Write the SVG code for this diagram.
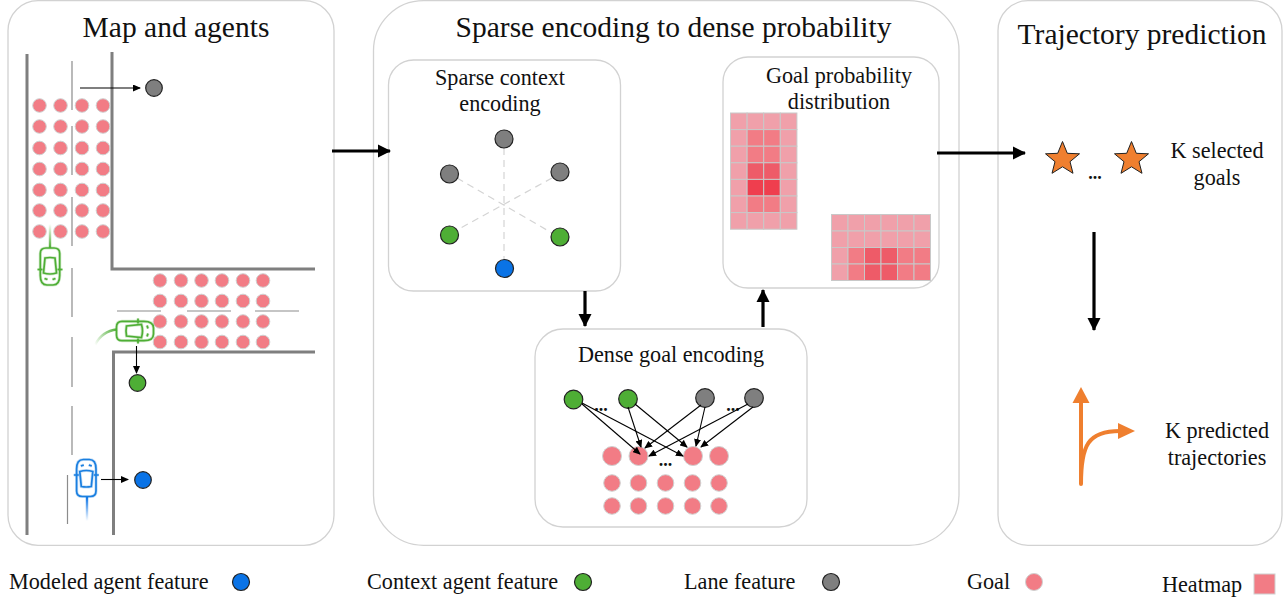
<svg xmlns="http://www.w3.org/2000/svg" width="1287" height="598" viewBox="0 0 1287 598">
<style>
text{font-family:"Liberation Serif","Times New Roman",serif;fill:#111}
.t{font-size:29.500px;text-anchor:middle}
.s{font-size:22.200px;text-anchor:middle}
.l{font-size:22.200px}
.d{font-size:18px;text-anchor:middle;font-weight:bold}
.panel{fill:#fff;stroke:#d2d2d2;stroke-width:1.3}
.road{fill:none;stroke:#7f7f7f;stroke-width:3}
.lane{fill:none;stroke:#8c8c8c;stroke-width:1.2}
.n{stroke:#222;stroke-width:1.2}
.gray{fill:#7f7f7f}.green{fill:#4eae35}.blue{fill:#0a73e6}
.goal{fill:#f27c85;stroke:#d0d0d0;stroke-width:1}
.thin{stroke:#000;stroke-width:1.1;fill:none;marker-end:url(#a1)}
.bold{stroke:#000;stroke-width:3.2;fill:none;marker-end:url(#a2)}
.dash{stroke:#d4d4d4;stroke-width:1.2;stroke-dasharray:7 5;fill:none}
.b{fill:#f0a0aa}.m{fill:#f27c85}.h{fill:#ee5b68}.x{fill:#ef3e4e}
.hm rect{stroke:#c8c8c8;stroke-width:1}
.star{fill:#ef7f2f;stroke:#222;stroke-width:1}
.car{fill:none;stroke:currentColor;stroke-width:1.7}
</style>
<defs>
<marker id="a1" markerWidth="9" markerHeight="7" refX="7" refY="3.5" orient="auto" markerUnits="userSpaceOnUse"><path d="M0 0L8 3.5L0 7Z" fill="#000"/></marker>
<marker id="a2" markerWidth="14" markerHeight="14" refX="12" refY="7" orient="auto" markerUnits="userSpaceOnUse"><path d="M0 0.5L13 7L0 13.5Z" fill="#000"/></marker>
<linearGradient id="tg" x1="0" y1="1" x2="0" y2="0"><stop offset="0" stop-color="#4eae35"/><stop offset="1" stop-color="#4eae35" stop-opacity="0"/></linearGradient>
<linearGradient id="tc" gradientUnits="userSpaceOnUse" x1="117" y1="329" x2="95" y2="345"><stop offset="0" stop-color="#4eae35"/><stop offset="1" stop-color="#4eae35" stop-opacity="0"/></linearGradient>
<linearGradient id="tb" x1="0" y1="0" x2="0" y2="1"><stop offset="0" stop-color="#0a73e6"/><stop offset="1" stop-color="#0a73e6" stop-opacity="0"/></linearGradient>
<g id="car-shape">
<path d="M-3-18.500H3Q9.700-18.500 9.700-9V13Q9.700 18.500 4 18.500H-4Q-9.700 18.500-9.700 13V-9Q-9.700-18.500-3-18.500Z"/>
<path d="M-6.500-6.500Q0-8.500 6.500-6.500L5 8.500Q0 9.500-5 8.500Z"/>
<path d="M-12.500-3H-7.500M7.500-3H12.500M-5.500-12L-2.500-13M5.500-12L2.500-13"/>
</g>
<g id="car" class="car">
<use href="#car-shape" stroke-width="3.200" stroke-opacity="0.250"/>
<use href="#car-shape"/>
</g>
</defs>

<g id="panel-map">
<rect class="panel" x="8" y="0.700" width="326" height="544.600" rx="30"/>
<text class="t" x="176" y="37">Map and agents</text>
<path class="road" d="M27 54V535M112 52V269H315M315 352H113.500V535"/>
<path class="lane" d="M72 61V110M72 126V175M72 197V246M72 268V317M72 337V387M72 406V455M67.500 475V524M117 311H161M187 311H231M255 311H299"/>
<g id="map-goals-a">
<circle class="goal" cx="39.500" cy="105.500" r="6.800"/><circle class="goal" cx="60.500" cy="105.500" r="6.800"/><circle class="goal" cx="82" cy="105.500" r="6.800"/><circle class="goal" cx="103" cy="105.500" r="6.800"/>
<circle class="goal" cx="39.500" cy="126.500" r="6.800"/><circle class="goal" cx="60.500" cy="126.500" r="6.800"/><circle class="goal" cx="82" cy="126.500" r="6.800"/><circle class="goal" cx="103" cy="126.500" r="6.800"/>
<circle class="goal" cx="39.500" cy="148" r="6.800"/><circle class="goal" cx="60.500" cy="148" r="6.800"/><circle class="goal" cx="82" cy="148" r="6.800"/><circle class="goal" cx="103" cy="148" r="6.800"/>
<circle class="goal" cx="39.500" cy="169" r="6.800"/><circle class="goal" cx="60.500" cy="169" r="6.800"/><circle class="goal" cx="82" cy="169" r="6.800"/><circle class="goal" cx="103" cy="169" r="6.800"/>
<circle class="goal" cx="39.500" cy="190" r="6.800"/><circle class="goal" cx="60.500" cy="190" r="6.800"/><circle class="goal" cx="82" cy="190" r="6.800"/><circle class="goal" cx="103" cy="190" r="6.800"/>
<circle class="goal" cx="39.500" cy="210.500" r="6.800"/><circle class="goal" cx="60.500" cy="210.500" r="6.800"/><circle class="goal" cx="82" cy="210.500" r="6.800"/><circle class="goal" cx="103" cy="210.500" r="6.800"/>
<circle class="goal" cx="39.500" cy="231.500" r="6.800"/><circle class="goal" cx="60.500" cy="231.500" r="6.800"/><circle class="goal" cx="82" cy="231.500" r="6.800"/><circle class="goal" cx="103" cy="231.500" r="6.800"/>
</g>
<g id="map-goals-b">
<circle class="goal" cx="160" cy="280.500" r="6.800"/><circle class="goal" cx="181" cy="280.500" r="6.800"/><circle class="goal" cx="201.500" cy="280.500" r="6.800"/><circle class="goal" cx="222" cy="280.500" r="6.800"/><circle class="goal" cx="243" cy="280.500" r="6.800"/><circle class="goal" cx="263" cy="280.500" r="6.800"/>
<circle class="goal" cx="160" cy="301" r="6.800"/><circle class="goal" cx="181" cy="301" r="6.800"/><circle class="goal" cx="201.500" cy="301" r="6.800"/><circle class="goal" cx="222" cy="301" r="6.800"/><circle class="goal" cx="243" cy="301" r="6.800"/><circle class="goal" cx="263" cy="301" r="6.800"/>
<circle class="goal" cx="160" cy="321.500" r="6.800"/><circle class="goal" cx="181" cy="321.500" r="6.800"/><circle class="goal" cx="201.500" cy="321.500" r="6.800"/><circle class="goal" cx="222" cy="321.500" r="6.800"/><circle class="goal" cx="243" cy="321.500" r="6.800"/><circle class="goal" cx="263" cy="321.500" r="6.800"/>
<circle class="goal" cx="160" cy="342" r="6.800"/><circle class="goal" cx="181" cy="342" r="6.800"/><circle class="goal" cx="201.500" cy="342" r="6.800"/><circle class="goal" cx="222" cy="342" r="6.800"/><circle class="goal" cx="243" cy="342" r="6.800"/><circle class="goal" cx="263" cy="342" r="6.800"/>
</g>
<rect x="48.800" y="224" width="2.400" height="24" fill="url(#tg)"/>
<use href="#car" transform="translate(50 266.500) rotate(180)" color="#4eae35"/>
<path d="M117 329.500Q102 331 95 345" fill="none" stroke="url(#tc)" stroke-width="2.400"/>
<use href="#car" transform="translate(135 331) rotate(90)" color="#4eae35"/>
<rect x="85.800" y="497" width="2.400" height="24" fill="url(#tb)"/>
<use href="#car" transform="translate(86.300 478)" color="#1a7fe0"/>
<circle class="n gray" cx="154" cy="88" r="8.300"/>
<circle class="n green" cx="137.500" cy="383" r="8.300"/>
<circle class="n blue" cx="143" cy="480" r="8.300"/>
</g>

<g id="panel-middle">
<rect class="panel" x="373.500" y="0.700" width="585.500" height="544.600" rx="50"/>
<text class="t" x="673.500" y="37">Sparse encoding to dense probability</text>
</g>

<g id="sparse-context">
<rect class="panel" x="388.500" y="60" width="232" height="231" rx="25"/>
<text class="s" x="500" y="84.500">Sparse context</text>
<text class="s" x="500" y="110.500">encoding</text>
<path class="dash" d="M504 148V260M457 178L552 233M552 178L457 230"/>
<circle class="n gray" cx="504" cy="139" r="9"/>
<circle class="n gray" cx="449.500" cy="174" r="9"/>
<circle class="n gray" cx="560" cy="172" r="9"/>
<circle class="n green" cx="449.500" cy="235" r="9"/>
<circle class="n green" cx="560" cy="237" r="9"/>
<circle class="n blue" cx="504.500" cy="268.500" r="9"/>
</g>

<g id="goal-probability">
<rect class="panel" x="723" y="57" width="216" height="231" rx="25"/>
<text class="s" x="839" y="82.800">Goal probability</text>
<text class="s" x="839" y="108.800">distribution</text>
<g class="hm" id="heat-a">
<rect class="b" x="730.500" y="113" width="16.600" height="16.600"/><rect class="b" x="747.100" y="113" width="16.600" height="16.600"/><rect class="b" x="763.700" y="113" width="16.600" height="16.600"/><rect class="b" x="780.300" y="113" width="16.600" height="16.600"/>
<rect class="b" x="730.500" y="129.600" width="16.600" height="16.600"/><rect class="m" x="747.100" y="129.600" width="16.600" height="16.600"/><rect class="m" x="763.700" y="129.600" width="16.600" height="16.600"/><rect class="b" x="780.300" y="129.600" width="16.600" height="16.600"/>
<rect class="b" x="730.500" y="146.200" width="16.600" height="16.600"/><rect class="m" x="747.100" y="146.200" width="16.600" height="16.600"/><rect class="m" x="763.700" y="146.200" width="16.600" height="16.600"/><rect class="b" x="780.300" y="146.200" width="16.600" height="16.600"/>
<rect class="b" x="730.500" y="162.800" width="16.600" height="16.600"/><rect class="h" x="747.100" y="162.800" width="16.600" height="16.600"/><rect class="h" x="763.700" y="162.800" width="16.600" height="16.600"/><rect class="b" x="780.300" y="162.800" width="16.600" height="16.600"/>
<rect class="b" x="730.500" y="179.400" width="16.600" height="16.600"/><rect class="x" x="747.100" y="179.400" width="16.600" height="16.600"/><rect class="x" x="763.700" y="179.400" width="16.600" height="16.600"/><rect class="b" x="780.300" y="179.400" width="16.600" height="16.600"/>
<rect class="b" x="730.500" y="196" width="16.600" height="16.600"/><rect class="m" x="747.100" y="196" width="16.600" height="16.600"/><rect class="m" x="763.700" y="196" width="16.600" height="16.600"/><rect class="b" x="780.300" y="196" width="16.600" height="16.600"/>
<rect class="b" x="730.500" y="212.600" width="16.600" height="16.600"/><rect class="b" x="747.100" y="212.600" width="16.600" height="16.600"/><rect class="b" x="763.700" y="212.600" width="16.600" height="16.600"/><rect class="b" x="780.300" y="212.600" width="16.600" height="16.600"/>
</g>
<g class="hm" id="heat-b">
<rect class="b" x="831.500" y="214.500" width="16.500" height="16.500"/><rect class="b" x="848" y="214.500" width="16.500" height="16.500"/><rect class="b" x="864.500" y="214.500" width="16.500" height="16.500"/><rect class="b" x="881" y="214.500" width="16.500" height="16.500"/><rect class="b" x="897.500" y="214.500" width="16.500" height="16.500"/><rect class="b" x="914" y="214.500" width="16.500" height="16.500"/>
<rect class="b" x="831.500" y="231" width="16.500" height="16.500"/><rect class="b" x="848" y="231" width="16.500" height="16.500"/><rect class="b" x="864.500" y="231" width="16.500" height="16.500"/><rect class="b" x="881" y="231" width="16.500" height="16.500"/><rect class="b" x="897.500" y="231" width="16.500" height="16.500"/><rect class="b" x="914" y="231" width="16.500" height="16.500"/>
<rect class="b" x="831.500" y="247.500" width="16.500" height="16.500"/><rect class="m" x="848" y="247.500" width="16.500" height="16.500"/><rect class="h" x="864.500" y="247.500" width="16.500" height="16.500"/><rect class="h" x="881" y="247.500" width="16.500" height="16.500"/><rect class="m" x="897.500" y="247.500" width="16.500" height="16.500"/><rect class="m" x="914" y="247.500" width="16.500" height="16.500"/>
<rect class="b" x="831.500" y="264" width="16.500" height="16.500"/><rect class="m" x="848" y="264" width="16.500" height="16.500"/><rect class="h" x="864.500" y="264" width="16.500" height="16.500"/><rect class="h" x="881" y="264" width="16.500" height="16.500"/><rect class="m" x="897.500" y="264" width="16.500" height="16.500"/><rect class="m" x="914" y="264" width="16.500" height="16.500"/>
</g>
</g>

<g id="dense-goal">
<rect class="panel" x="535" y="329" width="272" height="198" rx="28"/>
<text class="s" x="671" y="361.800">Dense goal encoding</text>
<circle class="goal" cx="612" cy="456" r="9.500"/><circle class="goal" cx="638.500" cy="456" r="9.500"/><circle class="goal" cx="693" cy="456" r="9.500"/><circle class="goal" cx="719" cy="456" r="9.500"/>
<circle class="goal" cx="612" cy="483" r="8.300"/><circle class="goal" cx="638.500" cy="483" r="8.300"/><circle class="goal" cx="665.500" cy="483" r="8.300"/><circle class="goal" cx="692.500" cy="483" r="8.300"/><circle class="goal" cx="719" cy="483" r="8.300"/>
<circle class="goal" cx="612" cy="506" r="8.300"/><circle class="goal" cx="638.500" cy="506" r="8.300"/><circle class="goal" cx="665.500" cy="506" r="8.300"/><circle class="goal" cx="692.500" cy="506" r="8.300"/><circle class="goal" cx="719" cy="506" r="8.300"/>
<circle class="n green" cx="573.500" cy="399.500" r="9.300"/>
<circle class="n green" cx="628" cy="399" r="9.300"/>
<circle class="n gray" cx="705" cy="398" r="9.300"/>
<circle class="n gray" cx="754" cy="398" r="9.300"/>
<text class="d" x="601" y="411">...</text>
<text class="d" x="733" y="411">...</text>
<text class="d" x="665.500" y="466">...</text>
</g>

<g id="trajectory-prediction">
<rect class="panel" x="998" y="0.700" width="284" height="544.600" rx="30"/>
<text class="t" x="1142" y="44">Trajectory prediction</text>
<path class="star" d="M1062.500 141.500L1067.300 153.300L1079.500 153.800L1070 161.700L1073 173.300L1062.500 166.800L1052 173.300L1055 161.700L1045.500 153.800L1057.700 153.300Z"/>
<path class="star" d="M1131.500 141.500L1136.300 153.300L1148.500 153.800L1139 161.700L1142 173.300L1131.500 166.800L1121 173.300L1124 161.700L1114.500 153.800L1126.700 153.300Z"/>
<text class="d" x="1095" y="179">...</text>
<text class="s" x="1217" y="157.800">K selected</text>
<text class="s" x="1217" y="184.500">goals</text>
<path d="M1081 484V400M1081 484C1081 445 1088 431 1120 431" fill="none" stroke="#ef7f2f" stroke-width="4" stroke-linecap="round"/>
<path d="M1081 387L1089.500 403H1072.500ZM1135 431L1118 423V439Z" fill="#ef7f2f"/>
<text class="s" x="1217" y="437.800">K predicted</text>
<text class="s" x="1217" y="464.800">trajectories</text>
</g>

<g id="connectors">
<path class="thin" d="M80 88H140"/>
<path class="thin" d="M136.500 346V373"/>
<path class="thin" d="M101 479.500H128"/>
<path class="thin" d="M582 404L640 454"/>
<path class="thin" d="M582 403L683 456"/>
<path class="thin" d="M628 407L641 447"/>
<path class="thin" d="M635 404L687 447"/>
<path class="thin" d="M701 405L645 448"/>
<path class="thin" d="M705 407L696 446"/>
<path class="thin" d="M748 404L649 456"/>
<path class="thin" d="M753 407L701 447"/>
<path class="bold" d="M332 151H390"/>
<path class="bold" d="M937 153H1025"/>
<path class="bold" d="M1094 232V330"/>
<path class="bold" d="M585 291V326"/>
<path class="bold" d="M763 327V290"/>
</g>

<g id="legend">
<text class="l" x="9" y="589">Modeled agent feature</text>
<circle class="n blue" cx="241" cy="582" r="8.500"/>
<text class="l" x="367" y="589">Context agent feature</text>
<circle class="n green" cx="583" cy="582" r="8.500"/>
<text class="l" x="684" y="589">Lane feature</text>
<circle class="n gray" cx="831" cy="582" r="8.500"/>
<text class="l" x="967" y="589">Goal</text>
<circle class="goal" cx="1034" cy="582" r="8.500"/>
<text class="l" x="1162" y="592">Heatmap</text>
<rect x="1254" y="574" width="21" height="20" fill="#f27c85" stroke="#d0d0d0"/>
</g>
</svg>
